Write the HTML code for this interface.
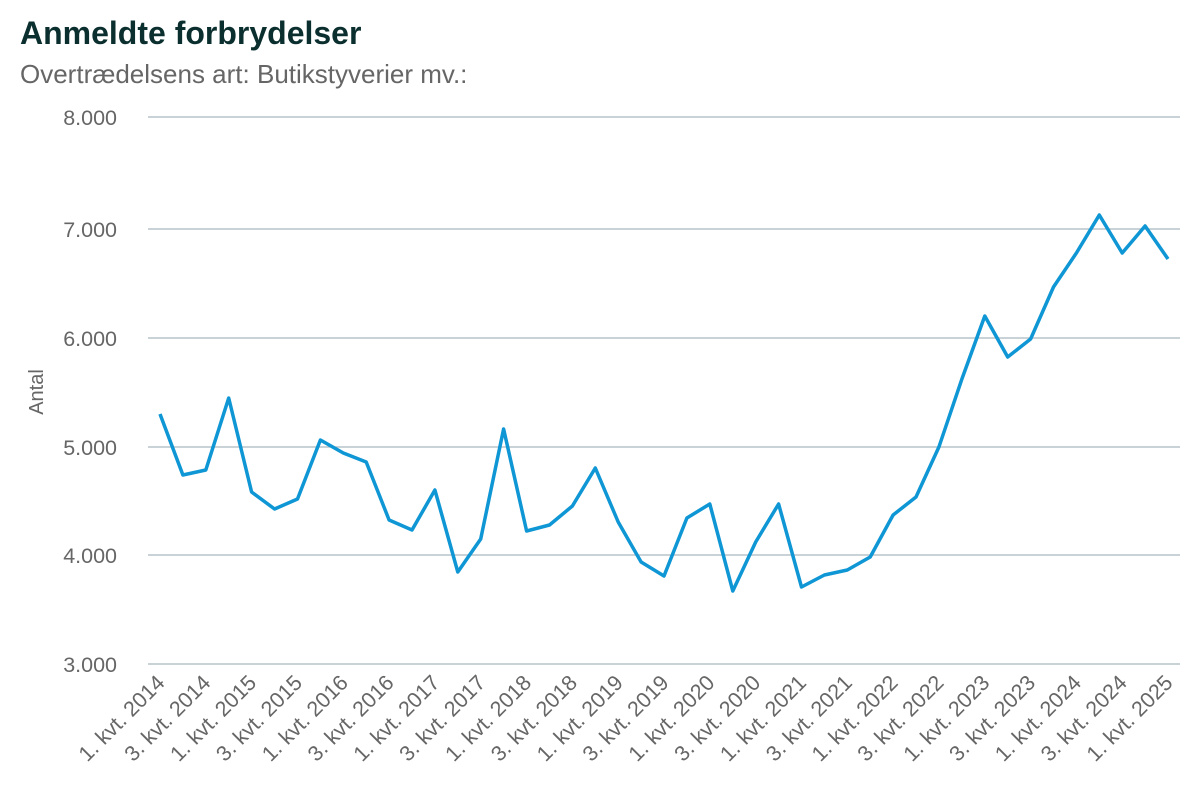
<!DOCTYPE html>
<html><head><meta charset="utf-8"><style>
body{margin:0;background:#fff;font-family:"Liberation Sans",sans-serif;}
</style></head><body>
<svg width="1200" height="800" xmlns="http://www.w3.org/2000/svg" font-family="Liberation Sans, sans-serif">
<text x="20" y="44" font-size="32" font-weight="bold" fill="#0b2e2e">Anmeldte forbrydelser</text>
<text x="20" y="83" font-size="26" fill="#666">Overtrædelsens art: Butikstyverier mv.:</text>
<g stroke="#a9b7bd" stroke-width="1.3">
<line x1="148" x2="1180" y1="117" y2="117"/><line x1="148" x2="1180" y1="229" y2="229"/>
<line x1="148" x2="1180" y1="338" y2="338"/><line x1="148" x2="1180" y1="447" y2="447"/>
<line x1="148" x2="1180" y1="555" y2="555"/><line x1="148" x2="1180" y1="664" y2="664"/>
</g>
<g font-size="21.5" fill="#666" text-anchor="end">
<text x="117" y="125">8.000</text><text x="117" y="237">7.000</text><text x="117" y="346">6.000</text>
<text x="117" y="455">5.000</text><text x="117" y="563">4.000</text><text x="117" y="672">3.000</text>
</g>
<text transform="translate(43,392) rotate(-90)" font-size="20" fill="#666" text-anchor="middle">Antal</text>
<polyline id="l" fill="none" stroke="#0f96d4" stroke-width="3.5" stroke-linejoin="round" points=""/>
<g id="xl" font-size="21.5" fill="#666" text-anchor="end"></g>
</svg>
<script>
var ys=[414,475,470,398,492,509,499,440,453,462,520,530,490,572,539,429,531,525,506,468,522,562,576,518,504,591,542,504,587,575,570,557,515,497,447,379,316,357,339,287,253,215,253,226,259];
var p=ys.map(function(y,i){return (160+i*22.91).toFixed(1)+","+y}).join(" ");
document.getElementById("l").setAttribute("points",p);
var g=document.getElementById("xl"),h="";
for(var i=0;i<45;i+=2){var x=166+i*22.91,yr=2014+Math.floor(i/4),q=(i%4)+1;
h+='<text transform="translate('+x.toFixed(1)+',684) rotate(-45)">'+q+'. kvt. '+yr+'</text>';}
g.innerHTML=h;
</script>
</body></html>
